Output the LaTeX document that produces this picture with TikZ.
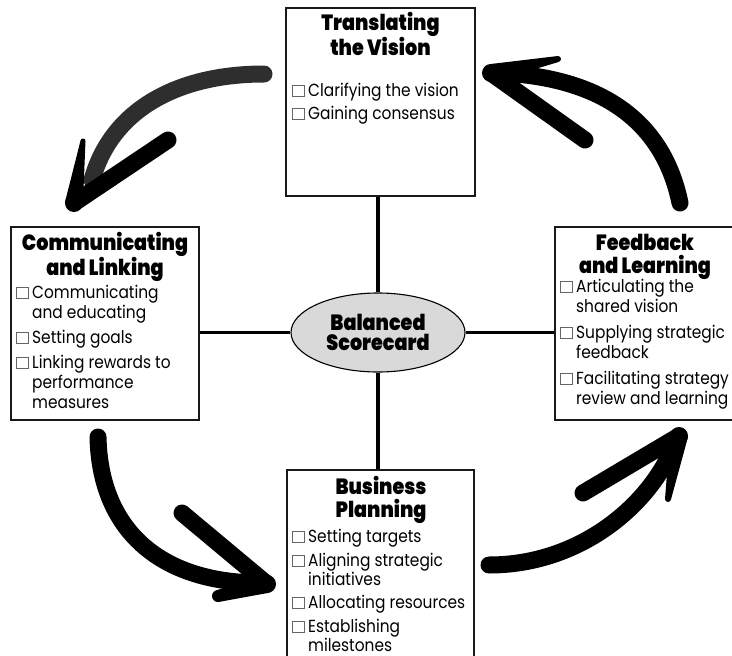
\documentclass[tikz,border=0pt]{standalone}
\usepackage{fontspec}
\setmainfont{Poppins}[FakeStretch=0.88]
\IfFontExistsTF{Poppins Black}
  {\newfontfamily\ttlfam{Poppins Black}[FakeStretch=0.87]\newcommand\ttlsel{\ttlfam}}
  {\IfFontExistsTF{Poppins ExtraBold}
    {\newfontfamily\ttlfam{Poppins ExtraBold}[FakeStretch=0.9]\newcommand\ttlsel{\ttlfam}}
    {\newfontfamily\ttlfam{Poppins}[FakeStretch=0.9]\newcommand\ttlsel{\ttlfam\bfseries}}}
\usetikzlibrary{shapes.geometric,calc}
\definecolor{shaftgray}{HTML}{2E2E2E}
\definecolor{ovalfill}{HTML}{D9D9D9}
\newcommand\chk{\textcolor{black!60}{\setlength{\fboxsep}{0pt}\setlength{\fboxrule}{0.9pt}\fbox{\rule{0pt}{10.5pt}\rule{10.5pt}{0pt}}}}
\newcommand\itm[1]{\noindent\hangindent=16pt\hangafter=1\makebox[16pt][l]{\chk}#1\par}
\newcommand\ilist[3]{\begin{minipage}[t]{200pt}\setlength{\parskip}{#1}\setlength{\baselineskip}{#2}#3\end{minipage}}
\newcommand\tlist[1]{\begin{minipage}[t]{200pt}\centering #1\end{minipage}}
% tapered barb: from tip #1 to end #2, half widths #3 and #4
\newcommand\taperbarb[4]{\fill ($(#1)!#3!90:(#2)$) -- ($(#2)!#4!-90:(#1)$) -- ($(#2)!#4!90:(#1)$) -- ($(#1)!#3!-90:(#2)$) -- cycle; \fill (#2) circle (#4); \fill (#1) circle (#3);}
\begin{document}
\begin{tikzpicture}[x=1pt,y=-1pt,
  box/.style={draw=black!90, line width=1.7pt, fill=white, inner sep=0pt},
  ttl/.style={anchor=base, inner sep=0pt, font=\ttlsel\fontsize{22}{23}\selectfont},
  items/.style={anchor=base west, inner sep=0pt, font=\fontsize{17.5}{20}\selectfont},
  link/.style={line width=3.5pt, draw=black},
  brush/.style={line width=17pt, line cap=round, line join=round, draw=black}]
\clip (0,0) rectangle (732,656);
\fill[white] (0,0) rectangle (732,656);
\node[ellipse, draw=black, line width=1.1pt, fill=ovalfill, minimum width=174pt, minimum height=79pt, inner sep=0pt, align=center, font=\ttlsel\fontsize{22}{20.5}\selectfont] (bsc) at (378,332.5) {Balanced\\Scorecard};
% boxes
\node[box, minimum width=189pt, minimum height=188pt] (tv) at (380.5,102) {};
\node[box, minimum width=188pt, minimum height=193pt] (cl) at (105,323.5) {};
\node[box, minimum width=190pt, minimum height=193pt] (fl) at (650,323.5) {};
\node[box, minimum width=187pt, minimum height=210pt] (bp) at (380.5,575) {};
% spokes
\draw[link] (bsc.north) -- (bsc.north |- tv.south);
\draw[link] (bsc.south) -- (bsc.south |- bp.north);
\draw[link] (bsc.west) -- (bsc.west -| cl.east);
\draw[link] (bsc.east) -- (bsc.east -| fl.west);
% titles
\node[ttl] (tvT) at (380.5,30) {\tlist{Translating\\the Vision}};
\node[ttl] (clT) at (105,250) {\tlist{Communicating\\and Linking}};
\node[ttl] (flT) at (645,250) {\tlist{Feedback\\and Learning}};
\node[ttl] (bpT) at (381,494) {\tlist{Business\\Planning}};
% item lists
\node[items] (tvI) at (292,96) {\ilist{3pt}{20pt}{\itm{Clarifying the vision}\itm{Gaining consensus}}};
\node[items] (clI) at (16,298) {\ilist{5pt}{20pt}{\itm{Communicating\\and educating}\itm{Setting goals}\itm{Linking rewards to\\performance\\measures}}};
\node[items] (flI) at (560,292) {\ilist{6pt}{20pt}{\itm{Articulating the\\shared vision}\itm{Supplying strategic\\feedback}\itm{Facilitating strategy\\review and learning}}};
\node[items] (bpI) at (292,542) {\ilist{5pt}{18pt}{\itm{Setting targets}\itm{Aligning strategic\\initiatives}\itm{Allocating resources}\itm{Establishing\\milestones}}};
% curved arrows
\coordinate (a1s) at (264,74);
\coordinate (a1e) at (92,180);
\coordinate (a1t) at (74,203);
\coordinate (a1b) at (83,141);
\coordinate (a1c) at (168,140);
\draw[brush, draw=shaftgray] (a1s) .. controls (180,74) and (112,108) .. (a1e);
\draw[brush] (a1t) -- (a1c);
\taperbarb{a1t}{a1b}{9pt}{2.5pt}
\coordinate (a2s) at (680,203);
\coordinate (a2e) at (502,73);
\coordinate (a2t) at (491,73);
\coordinate (a2b) at (558,59);
\coordinate (a2c) at (585,140);
\draw[brush] (a2s) .. controls (663,120) and (600,78) .. (a2e);
\draw[brush] (a2t) -- (a2c);
\taperbarb{a2t}{a2b}{9pt}{3pt}
\coordinate (a3s) at (98,437);
\coordinate (a3e) at (258,583);
\coordinate (a3t) at (267,584);
\coordinate (a3b) at (182,513);
\coordinate (a3c) at (218,596);
\draw[brush] (a3s) .. controls (100,530) and (160,582) .. (a3e);
\draw[brush] (a3b) -- (a3t);
\taperbarb{a3t}{a3c}{9pt}{6pt}
\coordinate (a4s) at (489,565);
\coordinate (a4e) at (674,445);
\coordinate (a4t) at (679,436);
\coordinate (a4b) at (583,493);
\coordinate (a4c) at (668,499);
\draw[brush] (a4s) .. controls (580,565) and (650,505) .. (a4e);
\draw[brush] (a4b) -- (a4t);
\taperbarb{a4t}{a4c}{9pt}{3pt}
\end{tikzpicture}
\end{document}
